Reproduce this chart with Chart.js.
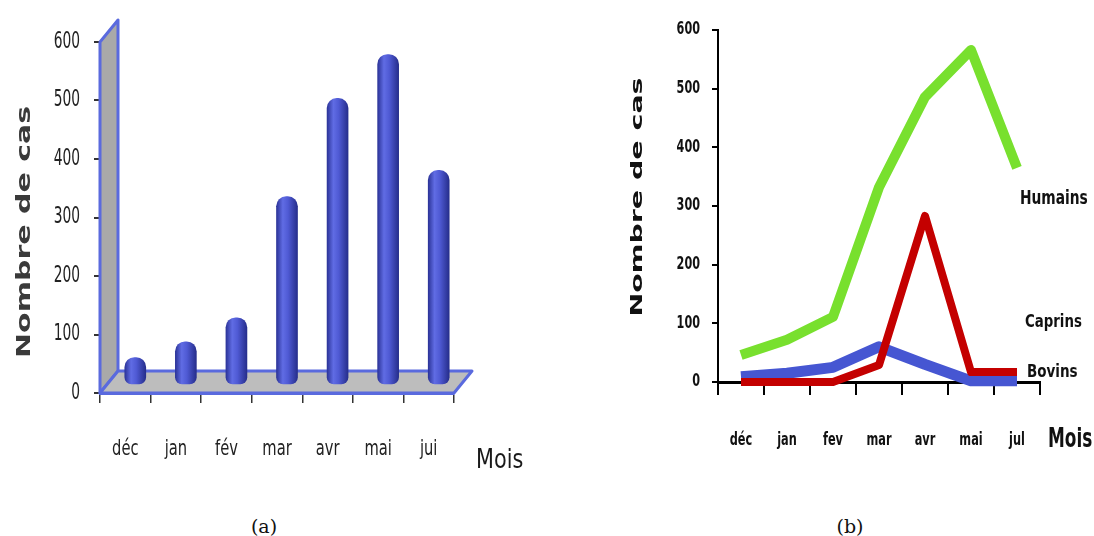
<!DOCTYPE html>
<html><head><meta charset="utf-8">
<script src="https://cdn.jsdelivr.net/npm/chart.js@4.4.0/dist/chart.umd.min.js"></script>
<style>
body{margin:0;background:#fff;width:1094px;height:536px;position:relative;overflow:hidden}
.box{position:absolute;top:0;width:547px;height:500px}
.cap{position:absolute;top:515px;font:19px/22px "DejaVu Serif",serif;color:#111;transform:translateX(-50%)}
</style></head><body>
<div class="box" style="left:0"><canvas id="chartA" width="547" height="500"></canvas></div>
<div class="box" style="left:547px"><canvas id="chartB" width="547" height="500"></canvas></div>
<div class="cap" style="left:264px">(a)</div>
<div class="cap" style="left:850px">(b)</div>
<script>
// (a) cas humains par mois
const monthsA = ['déc', 'jan', 'fév', 'mar', 'avr', 'mai', 'jui'];
const casesA = [47, 74, 115, 322, 490, 565, 367];
// (b) humains / caprins / bovins
const monthsB = ['déc', 'jan', 'fev', 'mar', 'avr', 'mai', 'jul'];
const humains = [46, 72, 111, 332, 486, 566, 365];
const caprins = [0, 0, 0, 29, 283, 17, 17];
const bovins = [9, 15, 25, 60, 30, 2, 2];
const yTicks = [0, 100, 200, 300, 400, 500, 600];

// no narrow font installed -> squeeze DejaVu horizontally
function squeezed(ctx, text, x, y, font, sx, align, color) {
  ctx.save();
  ctx.font = font;
  ctx.fillStyle = color;
  ctx.textBaseline = 'middle';
  ctx.textAlign = align || 'left';
  ctx.translate(x, y);
  ctx.scale(sx, 1);
  ctx.fillText(text, 0, 0);
  ctx.restore();
}

function vTitle(ctx, text, cx, cy, len, font, color) {
  ctx.save();
  ctx.font = font;
  ctx.fillStyle = color;
  ctx.translate(cx, cy);
  ctx.rotate(-Math.PI / 2);
  const w = ctx.measureText(text).width;
  ctx.scale(len / w, 1);
  ctx.textAlign = 'center';
  ctx.textBaseline = 'middle';
  ctx.fillText(text, 0, 0);
  ctx.restore();
}

function setTicks(scale) {
  scale.ticks = yTicks.map(v => ({value: v}));
}

function drawTickLabels(chart, o) {
  const {ctx, scales: {x, y}} = chart;
  y.ticks.forEach(t => {
    squeezed(ctx, String(t.value), y.right - o.yGap, y.getPixelForValue(t.value), o.yFont, o.ySx, 'right', o.color);
  });
  chart.data.labels.forEach((lab, i) => {
    squeezed(ctx, lab, x.getPixelForValue(i), o.xY, o.xFont, o.xSx, 'center', o.color);
  });
}

// fake 3d wall + floor, bars pushed back into the depth
const wallPlugin = {
  id: 'wall',
  beforeDatasetsDraw(chart) {
    const {ctx, scales: {x, y}} = chart;
    const x0 = x.left, x1 = x.right;
    const y0 = y.getPixelForValue(0), yt = y.getPixelForValue(yTicks[yTicks.length - 1]);
    const dx = 18, dy = -22;
    ctx.save();
    ctx.lineJoin = 'round';
    ctx.strokeStyle = '#5a6ade';
    ctx.lineWidth = 3;
    ctx.beginPath();
    ctx.moveTo(x0, y0); ctx.lineTo(x0, yt); ctx.lineTo(x0 + dx, yt + dy); ctx.lineTo(x0 + dx, y0 + dy);
    ctx.closePath();
    ctx.fillStyle = '#a9a9a9';
    ctx.fill(); ctx.stroke();
    ctx.beginPath();
    ctx.moveTo(x0, y0); ctx.lineTo(x0 + dx, y0 + dy); ctx.lineTo(x1 + dx, y0 + dy); ctx.lineTo(x1, y0);
    ctx.closePath();
    ctx.fillStyle = '#bdbdbd';
    ctx.fill(); ctx.stroke();
    ctx.restore();
    ctx.save();
    ctx.translate(10, -8);
  },
  afterDatasetsDraw(chart) {
    chart.ctx.restore();
  },
  afterDraw(chart) {
    const {ctx, scales: {x}} = chart;
    drawTickLabels(chart, {
      yGap: 20, yFont: '23px "DejaVu Sans"', ySx: 0.6,
      xY: 450, xFont: '21px "DejaVu Sans"', xSx: 0.7, color: '#222'
    });
    squeezed(ctx, 'Mois', x.right + 22, 461, '26px "DejaVu Sans"', 0.8, 'left', '#1a1a1a');
    vTitle(ctx, 'Nombre de cas', 25, 232, 252, 'bold 20px "DejaVu Sans"', '#3a3a3a');
  }
};

new Chart(document.getElementById('chartA'), {
  type: 'bar',
  data: {
    labels: monthsA,
    datasets: [{
      data: casesA,
      barThickness: 21,
      borderSkipped: false,
      borderRadius: {topLeft: 10, topRight: 10, bottomLeft: 7, bottomRight: 7},
      backgroundColor(c) {
        const chart = c.chart, xs = chart.scales.x;
        if (!xs || c.dataIndex === undefined || !chart.chartArea) return '#4a54cc';
        const cx = xs.getPixelForValue(c.dataIndex);
        if (!Number.isFinite(cx)) return '#4a54cc';
        const g = chart.ctx.createLinearGradient(cx - 10.5, 0, cx + 10.5, 0);
        g.addColorStop(0, '#2c3499');
        g.addColorStop(0.3, '#606ce4');
        g.addColorStop(0.55, '#4f5ad4');
        g.addColorStop(1, '#262e8c');
        return g;
      }
    }]
  },
  options: {
    responsive: false,
    animation: false,
    events: [],
    layout: {padding: {left: 0, top: 42, right: 93, bottom: 0}},
    plugins: {legend: {display: false}, tooltip: {enabled: false}},
    scales: {
      x: {
        grid: {offset: true, drawOnChartArea: false, tickLength: 10, color: '#333', lineWidth: 1.5},
        border: {color: '#5a6ade', width: 3},
        ticks: {display: false},
        afterFit(s) { s.height = 107; }
      },
      y: {
        min: 0, max: 600,
        afterBuildTicks: setTicks,
        grid: {drawOnChartArea: false, tickLength: 6, color: '#333', lineWidth: 2},
        border: {color: '#5a6ade', width: 3},
        ticks: {display: false},
        afterFit(s) { s.width = 100; }
      }
    }
  },
  plugins: [wallPlugin]
});

const labelsPlugin = {
  id: 'seriesLabels',
  afterDraw(chart) {
    const {ctx, scales: {x}} = chart;
    drawTickLabels(chart, {
      yGap: 18, yFont: 'bold 17px "DejaVu Sans"', ySx: 0.66,
      xY: 440, xFont: 'bold 18px "DejaVu Sans"', xSx: 0.63, color: '#111'
    });
    squeezed(ctx, 'Humains', x.right - 20, 199, 'bold 20px "DejaVu Sans"', 0.69, 'left', '#111');
    squeezed(ctx, 'Caprins', x.right - 15, 322, 'bold 18px "DejaVu Sans"', 0.74, 'left', '#111');
    squeezed(ctx, 'Bovins', x.right - 13, 372, 'bold 18px "DejaVu Sans"', 0.75, 'left', '#111');
    squeezed(ctx, 'Mois', x.right + 8, 440, 'bold 26px "DejaVu Sans"', 0.65, 'left', '#111');
    vTitle(ctx, 'Nombre de cas', 91, 197, 239, 'bold 16px "DejaVu Sans"', '#111');
  }
};

new Chart(document.getElementById('chartB'), {
  type: 'line',
  data: {
    labels: monthsB,
    datasets: [
      {label: 'Caprins', data: caprins, borderColor: '#c40000', borderWidth: 8},
      {label: 'Bovins', data: bovins, borderColor: '#4656d2', borderWidth: 11},
      {label: 'Humains', data: humains, borderColor: '#78e02e', borderWidth: 10}
    ]
  },
  options: {
    responsive: false,
    animation: false,
    events: [],
    layout: {padding: {left: 0, top: 30, right: 54, bottom: 0}},
    elements: {
      point: {radius: 0},
      line: {tension: 0, fill: false, borderJoinStyle: 'round', borderCapStyle: 'butt'}
    },
    datasets: {line: {clip: false}},
    plugins: {legend: {display: false}, tooltip: {enabled: false}},
    scales: {
      x: {
        offset: true,
        grid: {offset: true, drawOnChartArea: false, tickLength: 13, color: '#000', lineWidth: 2},
        border: {color: '#000', width: 3},
        ticks: {display: false},
        afterFit(s) { s.height = 118; }
      },
      y: {
        min: 0, max: 600,
        afterBuildTicks: setTicks,
        grid: {drawOnChartArea: false, tickLength: 6, color: '#000', lineWidth: 2},
        border: {color: '#000', width: 2},
        ticks: {display: false},
        afterFit(s) { s.width = 171; }
      }
    }
  },
  plugins: [labelsPlugin]
});
</script>
</body></html>
